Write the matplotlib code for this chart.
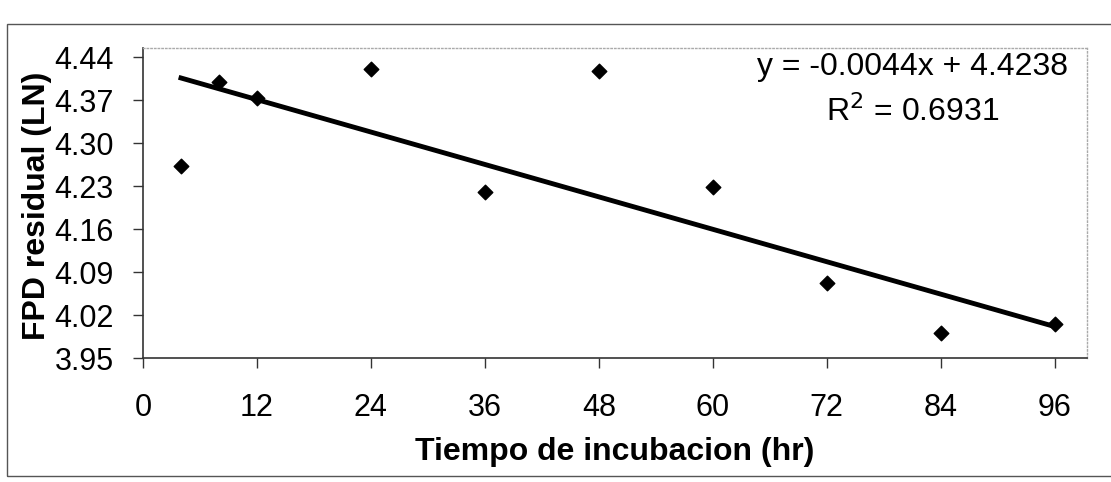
import numpy as np
import matplotlib
matplotlib.use("Agg")
import matplotlib.pyplot as plt
from matplotlib.patches import Rectangle

# datos
tiempo = [4, 8, 12, 24, 36, 48, 60, 72, 84, 96]
fpd_ln = [4.263, 4.400, 4.373, 4.421, 4.220, 4.418, 4.228, 4.072, 3.991, 4.005]

# linea de tendencia (ecuacion mostrada)
pendiente = -0.0044
intercepto = 4.4238
r2 = 0.6931

xticks = [0, 12, 24, 36, 48, 60, 72, 84, 96]
yticks = [3.95, 4.02, 4.09, 4.16, 4.23, 4.30, 4.37, 4.44]

plt.rcParams['font.family'] = ['Liberation Sans', 'DejaVu Sans']

fig = plt.figure(figsize=(11.11, 4.82), dpi=100, facecolor='w')
ax = fig.add_axes([0.1287, 0.257, 0.8497, 0.643])

ax.scatter(tiempo, fpd_ln, marker='D', s=55, color='black', zorder=3)

xt = np.array([tiempo[0], tiempo[-1]])
ax.plot(xt, pendiente * xt + intercepto, color='black', lw=3.5, zorder=2)

ax.set_xlim(0, 99.4)
ax.set_ylim(3.95, 4.4547)
ax.set_xticks(xticks)
ax.set_yticks(yticks)
ax.set_yticklabels(['%.2f' % v for v in yticks])
ax.tick_params(axis='both', direction='out', length=7, width=1,
               labelsize=22, color='#333333')
ax.tick_params(axis='x', pad=18)
ax.tick_params(axis='y', pad=14)

for s in ['left', 'bottom']:
    ax.spines[s].set_color('#333333')
    ax.spines[s].set_linewidth(1.2)
for s in ['top', 'right']:
    ax.spines[s].set_color('#aaaaaa')
    ax.spines[s].set_linestyle(':')
    ax.spines[s].set_linewidth(1)

ax.set_xlabel('Tiempo de incubacion (hr)', fontsize=23, fontweight='bold',
              va='center')
ax.xaxis.set_label_coords(0.50, -0.303)
ax.set_ylabel('FPD residual (LN)', fontsize=23, fontweight='bold',
              va='center')
ax.yaxis.set_label_coords(-0.112, 0.49)

ax.text(0.815, 0.915, 'y = %.4fx + %.4f' % (pendiente, intercepto),
        transform=ax.transAxes, ha='center', va='baseline', fontsize=23)
ax.text(0.815, 0.765, 'R$^2$ = %.4f' % r2,
        transform=ax.transAxes, ha='center', va='baseline', fontsize=23)

# marco exterior del grafico
fig.patches.append(Rectangle((0.0063, 0.0124), 1.0, 0.938,
                             transform=fig.transFigure, fill=False,
                             edgecolor='#555555', lw=1))

fig.savefig('out.png', dpi=100)
